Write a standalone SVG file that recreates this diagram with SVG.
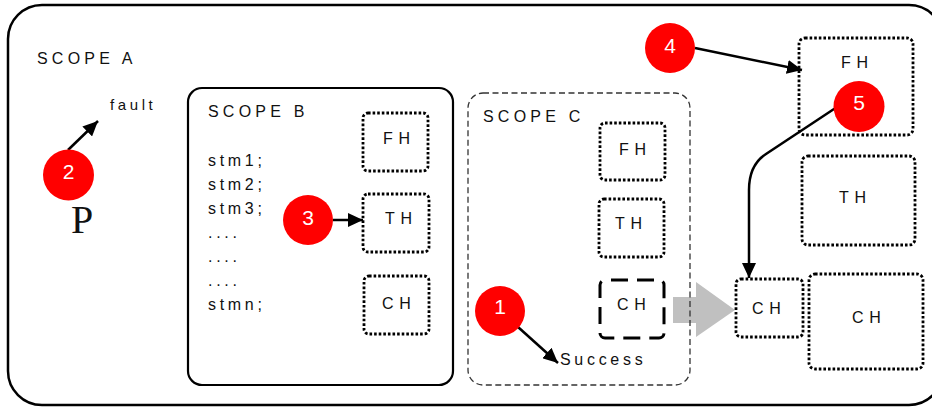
<svg xmlns="http://www.w3.org/2000/svg" width="932" height="407" viewBox="0 0 932 407">
<defs>
<style>
text{font-family:"Liberation Sans",Arial,sans-serif;fill:#111;}
.scope{font-size:16px;letter-spacing:4.2px;}
.code{font-size:16px;letter-spacing:3.7px;}
.lbl{font-size:16px;letter-spacing:5.8px;}
.num{font-size:21px;fill:#fff;text-anchor:middle;}
.dot{fill:none;stroke:#000;stroke-width:2.8;stroke-dasharray:2.6 2;}
.badge{fill:#ff0000;}
.arr{fill:none;stroke:#000;stroke-width:2.5;marker-end:url(#ah);}
</style>
<marker id="ah" markerUnits="userSpaceOnUse" markerWidth="15" markerHeight="14" refX="15" refY="7" orient="auto">
<path d="M0,0 L15,7 L0,14 z" fill="#000"/>
</marker>
</defs>

<g id="scopeA">
<rect x="8" y="5" width="935" height="400" rx="34" fill="#fff" stroke="#000" stroke-width="2.5"/>
<text class="scope" x="37" y="64">SCOPE A</text>
<text x="110" y="110" style="font-size:15px;letter-spacing:3.6px">fault</text>
<text x="71" y="233" style="font-family:'Liberation Serif','Times New Roman',serif;font-size:40px">P</text>
</g>

<g id="connectors">
<polygon points="673,297 696,297 696,282 735,310 696,337 696,323 673,323" fill="#c0c0c0"/>
<line class="arr" x1="68" y1="150" x2="98" y2="121"/>
<line class="arr" x1="333" y1="220" x2="363" y2="220"/>
<line class="arr" x1="518" y1="327" x2="558" y2="363"/>
<line class="arr" x1="695" y1="48" x2="802" y2="70"/>
<path class="arr" d="M837,107 L766,154 Q749,165 749,190 L749,278"/>
</g>

<g id="scopeB">
<rect x="188" y="88" width="265" height="297" rx="14" fill="none" stroke="#000" stroke-width="2.2"/>
<text class="scope" x="208" y="117">SCOPE B</text>
<text class="code" x="208" y="166">stm1;</text>
<text class="code" x="208" y="190">stm2;</text>
<text class="code" x="208" y="214">stm3;</text>
<text class="code" x="208" y="238">....</text>
<text class="code" x="208" y="262">....</text>
<text class="code" x="208" y="286">....</text>
<text class="code" x="208" y="310">stmn;</text>
</g>
<g id="B_FH"><rect class="dot" x="363" y="113" width="65" height="58" rx="5"/><text class="lbl" x="383" y="144">FH</text></g>
<g id="B_TH"><rect class="dot" x="363" y="194" width="66" height="58" rx="5"/><text class="lbl" x="385" y="224">TH</text></g>
<g id="B_CH"><rect class="dot" x="364" y="276" width="65" height="58" rx="5"/><text class="lbl" x="382" y="309">CH</text></g>

<g id="scopeC">
<rect x="468" y="93" width="222" height="292" rx="15" fill="none" stroke="#333" stroke-width="1.3" stroke-dasharray="6 3.5"/>
<text class="scope" x="483" y="122">SCOPE C</text>
<text class="code" x="560" y="365">Success</text>
</g>
<g id="C_FH"><rect class="dot" x="600" y="123" width="65" height="57" rx="5"/><text class="lbl" x="619" y="155">FH</text></g>
<g id="C_TH"><rect class="dot" x="599" y="199" width="65" height="58" rx="5"/><text class="lbl" x="615" y="229">TH</text></g>
<g id="C_CH"><rect x="600" y="280" width="64" height="58" rx="5" fill="none" stroke="#000" stroke-width="3" stroke-dasharray="17 9" stroke-dashoffset="-6"/><text class="lbl" x="617" y="310">CH</text></g>

<g id="R_FH"><rect class="dot" x="799" y="38" width="114" height="97" rx="6"/><text class="lbl" x="841" y="68">FH</text></g>
<g id="R_TH"><rect class="dot" x="802" y="156" width="113" height="89" rx="6"/><text class="lbl" x="839" y="203">TH</text></g>
<g id="R_CH1"><rect class="dot" x="736" y="279" width="67" height="58" rx="5"/><text class="lbl" x="752" y="314">CH</text></g>
<g id="R_CH2"><rect class="dot" x="809" y="274" width="114" height="95" rx="6"/><text class="lbl" x="852" y="323">CH</text></g>

<g id="badge1"><circle class="badge" cx="500" cy="311" r="25"/><text class="num" x="500" y="314">1</text></g>
<g id="badge2"><circle class="badge" cx="68.5" cy="175" r="25.5"/><text class="num" x="68.5" y="179">2</text></g>
<g id="badge3"><circle class="badge" cx="308" cy="220" r="25"/><text class="num" x="308" y="225">3</text></g>
<g id="badge4"><circle class="badge" cx="670" cy="48" r="25"/><text class="num" x="670" y="53">4</text></g>
<g id="badge5"><circle class="badge" cx="859" cy="106.5" r="25.5"/><text class="num" x="859" y="110">5</text></g>
</svg>
